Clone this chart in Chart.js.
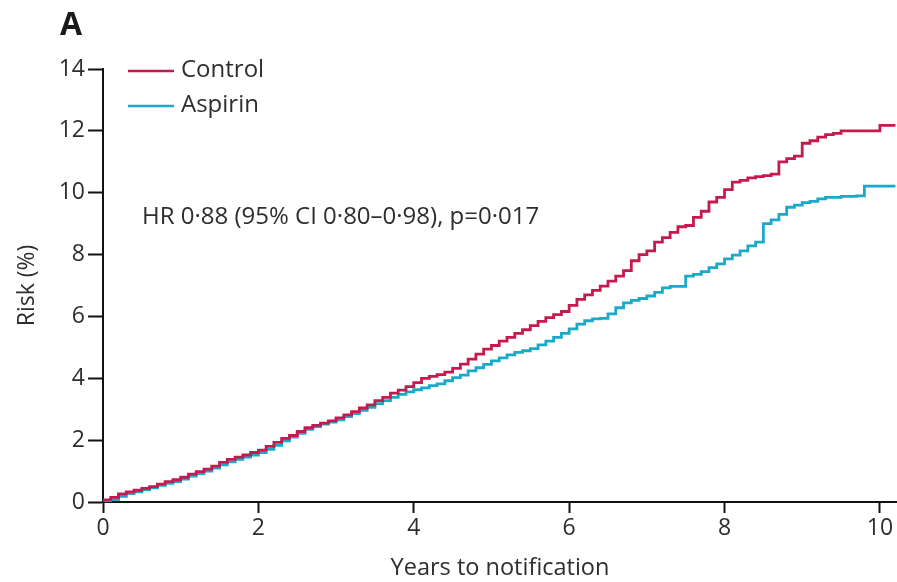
<!DOCTYPE html>
<html>
<head>
<meta charset="utf-8">
<script src="https://cdn.jsdelivr.net/npm/chart.js@4.4.1/dist/chart.umd.min.js"></script>
<style>
  html, body { margin: 0; padding: 0; background: #fff; }
  #wrap { width: 897px; height: 582px; }
</style>
</head>
<body>
<div id="wrap"><canvas id="myChart" width="897" height="582"></canvas></div>
<script>
// years since notification (x positions of readings)
const years = [
  0, 0.1, 0.2, 0.3, 0.4, 0.5, 0.6, 0.7, 0.8, 0.9,
  1, 1.1, 1.2, 1.3, 1.4, 1.5, 1.6, 1.7, 1.8, 1.9,
  2, 2.1, 2.2, 2.3, 2.4, 2.5, 2.6, 2.7, 2.8, 2.9,
  3, 3.1, 3.2, 3.3, 3.4, 3.5, 3.6, 3.7, 3.8, 3.9,
  4, 4.1, 4.2, 4.3, 4.4, 4.5, 4.6, 4.7, 4.8, 4.9,
  5, 5.1, 5.2, 5.3, 5.4, 5.5, 5.6, 5.7, 5.8, 5.9,
  6, 6.1, 6.2, 6.3, 6.4, 6.5, 6.6, 6.7, 6.8, 6.9,
  7, 7.1, 7.2, 7.3, 7.4, 7.5, 7.6, 7.7, 7.8, 7.9,
  8, 8.1, 8.2, 8.3, 8.4, 8.5, 8.6, 8.7, 8.8, 8.9,
  9, 9.1, 9.2, 9.3, 9.4, 9.5, 9.6, 9.7, 9.8, 9.9,
  10, 10.1, 10.2
];

// cumulative risk (%)
const controlRisk = [
  0, 0.07, 0.15, 0.26, 0.33, 0.38, 0.44, 0.50, 0.58, 0.66,
  0.72, 0.80, 0.90, 0.98, 1.06, 1.16, 1.28, 1.38, 1.45, 1.52,
  1.60, 1.68, 1.80, 1.93, 2.06, 2.15, 2.28, 2.40, 2.48, 2.55,
  2.62, 2.72, 2.82, 2.92, 3.04, 3.14, 3.28, 3.38, 3.52, 3.62,
  3.73, 3.86, 4.00, 4.06, 4.12, 4.20, 4.32, 4.46, 4.62, 4.78,
  4.94, 5.06, 5.20, 5.32, 5.45, 5.57, 5.70, 5.84, 5.96, 6.06,
  6.16, 6.36, 6.55, 6.70, 6.84, 6.98, 7.14, 7.30, 7.48, 7.80,
  8.00, 8.12, 8.40, 8.55, 8.72, 8.90, 8.94, 9.20, 9.40, 9.70,
  9.85, 10.10, 10.34, 10.40, 10.48, 10.52, 10.55, 10.60, 11.00, 11.10,
  11.18, 11.60, 11.68, 11.80, 11.88, 11.92, 12.00, 12.00, 12.00, 12.00,
  12.00, 12.18, 12.18
];

const aspirinRisk = [
  0, 0.02, 0.08, 0.18, 0.27, 0.33, 0.40, 0.46, 0.54, 0.60,
  0.66, 0.74, 0.84, 0.92, 1.00, 1.10, 1.20, 1.30, 1.38, 1.45,
  1.52, 1.60, 1.70, 1.83, 1.98, 2.10, 2.22, 2.35, 2.44, 2.52,
  2.58, 2.66, 2.76, 2.86, 2.96, 3.06, 3.18, 3.28, 3.38, 3.48,
  3.56, 3.63, 3.69, 3.76, 3.82, 3.92, 4.02, 4.10, 4.24, 4.34,
  4.45, 4.56, 4.66, 4.76, 4.84, 4.89, 4.96, 5.08, 5.20, 5.32,
  5.45, 5.60, 5.75, 5.86, 5.92, 5.94, 6.08, 6.28, 6.44, 6.52,
  6.58, 6.66, 6.78, 6.92, 6.97, 6.97, 7.30, 7.36, 7.45, 7.58,
  7.70, 7.86, 7.98, 8.12, 8.28, 8.40, 9.00, 9.12, 9.30, 9.53,
  9.60, 9.68, 9.72, 9.80, 9.85, 9.85, 9.88, 9.88, 9.90, 10.21,
  10.21, 10.21, 10.21
];

const xTicks = [0, 2, 4, 6, 8, 10];
const yTicks = [0, 2, 4, 6, 8, 10, 12, 14];

const seriesNames = ['Control', 'Aspirin'];
const seriesColors = ['#c51a4e', '#1ba9c9'];
const hrText = 'HR 0\u00b788 (95% CI 0\u00b780\u20130\u00b798), p=0\u00b7017';

const FONT = "'Open Sans', 'Liberation Sans', sans-serif";
const TEXT = '#2e2e2e';

function toPoints(ys) {
  return ys.map((v, i) => ({ x: years[i], y: v }));
}

// legend, panel letter and HR label drawn on the canvas
const extras = {
  id: 'extras',
  afterDraw(chart) {
    const ctx = chart.ctx;
    ctx.save();
    ctx.fillStyle = '#1a1a1a';
    ctx.font = "bold 32px " + FONT;
    ctx.textBaseline = 'middle';
    ctx.fillText('A', 60, 26);

    ctx.font = "24px " + FONT;
    ctx.fillStyle = TEXT;
    const ly = [71, 106];
    for (let i = 0; i < seriesNames.length; i++) {
      ctx.strokeStyle = seriesColors[i];
      ctx.lineWidth = 2.5;
      ctx.beginPath();
      ctx.moveTo(128, ly[i]);
      ctx.lineTo(174, ly[i]);
      ctx.stroke();
      ctx.fillText(seriesNames[i], 181, ly[i] - 1);
    }
    ctx.fillText(hrText, 142, 217);
    ctx.restore();
  }
};

const config = {
  type: 'line',
  data: {
    datasets: [{
      label: seriesNames[0],
      data: toPoints(controlRisk),
      borderColor: seriesColors[0],
      borderWidth: 2.8,
      stepped: 'after',
      pointRadius: 0,
      fill: false
    }, {
      label: seriesNames[1],
      data: toPoints(aspirinRisk),
      borderColor: seriesColors[1],
      borderWidth: 2.8,
      stepped: 'after',
      pointRadius: 0,
      fill: false
    }]
  },
  options: {
    responsive: false,
    animation: false,
    layout: { padding: { top: 69, right: 0, left: 0, bottom: 0 } },
    plugins: {
      legend: { display: false },
      tooltip: { enabled: false }
    },
    scales: {
      x: {
        type: 'linear',
        min: 0,
        max: 10.22,
        afterBuildTicks: (s) => { s.ticks = xTicks.map(v => ({ value: v })); },
        afterFit: (s) => { s.height = 80; },
        ticks: {
          color: TEXT,
          font: { family: FONT, size: 23 },
          padding: 2,
          maxRotation: 0
        },
        grid: {
          drawOnChartArea: false,
          drawTicks: true,
          tickLength: 11,
          tickColor: '#111',
          tickWidth: 2
        },
        border: { display: true, color: '#111', width: 2 },
        title: {
          display: true,
          text: 'Years to notification',
          color: TEXT,
          font: { family: FONT, size: 23.5 },
          padding: { top: 0, bottom: 0 }
        }
      },
      y: {
        min: 0,
        max: 14,
        afterBuildTicks: (s) => { s.ticks = yTicks.map(v => ({ value: v })); },
        afterFit: (s) => { s.width = 103; },
        ticks: {
          color: TEXT,
          font: { family: FONT, size: 23 },
          padding: 3
        },
        grid: {
          drawOnChartArea: false,
          drawTicks: true,
          tickLength: 15,
          tickColor: '#111',
          tickWidth: 2
        },
        border: { display: true, color: '#111', width: 2 },
        title: {
          display: true,
          text: 'Risk (%)',
          color: TEXT,
          font: { family: FONT, size: 23 },
          padding: { top: 14, bottom: 0 }
        }
      }
    }
  },
  plugins: [extras]
};

var myChart = document.getElementById('myChart').getContext('2d');
var theChart = new Chart(myChart, config);
</script>
</body>
</html>
